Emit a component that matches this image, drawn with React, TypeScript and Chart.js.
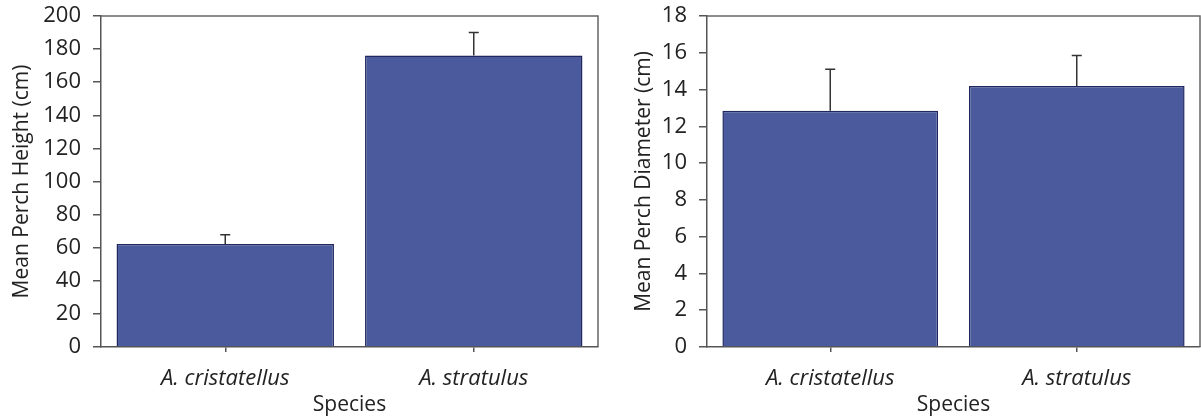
import { useEffect, useRef } from "react";
import { Chart, registerables } from "chart.js";

Chart.register(...registerables);

// Species on the category axis
const species = ["A. cristatellus", "A. stratulus"];

// Perch height (cm): means and upper error (SE)
const heightMeans = [62.2, 176.2];
const heightErrors = [5.6, 13.8];
const heightMax = 200;
const heightStep = 20;

// Perch diameter (cm): means and upper error (SE)
const diameterMeans = [12.85, 14.2];
const diameterErrors = [2.25, 1.65];
const diameterMax = 18;
const diameterStep = 2;

const FONT = "'Open Sans', 'DejaVu Sans', sans-serif";
const BAR_FILL = "#4a5a9d";
const BAR_EDGE = "#1f275e";
const AXIS = "#555555";

// Upward error whiskers with a small cap, placed from the y scale
const errorBars = {
  id: "errorBars",
  afterDatasetsDraw(chart: any) {
    const ds = chart.data.datasets[0];
    const errs: number[] = ds.errors || [];
    const meta = chart.getDatasetMeta(0);
    const y = chart.scales.y;
    const ctx = chart.ctx;
    ctx.save();
    ctx.strokeStyle = "#333333";
    ctx.lineWidth = 1.5;
    errs.forEach((e, i) => {
      const bar = meta.data[i];
      const v = ds.data[i] as number;
      const x = bar.x;
      const y0 = y.getPixelForValue(v);
      const y1 = y.getPixelForValue(v + e);
      ctx.beginPath();
      ctx.moveTo(x, y0);
      ctx.lineTo(x, y1);
      ctx.moveTo(x - 5, y1);
      ctx.lineTo(x + 5, y1);
      ctx.stroke();
    });
    ctx.restore();
  },
};

// Top and right edges of the plot frame
const frame = {
  id: "frame",
  afterDraw(chart: any) {
    const { ctx, chartArea } = chart;
    ctx.save();
    ctx.strokeStyle = "#666666";
    ctx.lineWidth = 1.5;
    ctx.beginPath();
    ctx.moveTo(chartArea.left, chartArea.top);
    ctx.lineTo(chartArea.right, chartArea.top);
    ctx.lineTo(chartArea.right, chartArea.bottom);
    ctx.stroke();
    ctx.restore();
  },
};

type PanelProps = {
  left: number;
  width: number;
  yWidth: number;
  titlePad: number;
  padRight: number;
  means: number[];
  errors: number[];
  max: number;
  step: number;
  yTitle: string;
};

function Panel(p: PanelProps) {
  const ref = useRef<HTMLCanvasElement | null>(null);

  useEffect(() => {
    if (!ref.current) return;
    const chart = new Chart(ref.current, {
      type: "bar",
      data: {
        labels: species,
        datasets: [
          {
            data: p.means,
            errors: p.errors,
            backgroundColor: BAR_FILL,
            borderColor: BAR_EDGE,
            borderWidth: 1.5,
            categoryPercentage: 1,
            barPercentage: 0.875,
          } as any,
        ],
      },
      options: {
        animation: false,
        responsive: false,
        maintainAspectRatio: false,
        layout: { padding: { top: 16, right: p.padRight, left: 0, bottom: 0 } },
        plugins: {
          legend: { display: false },
          tooltip: { enabled: false },
        },
        scales: {
          x: {
            offset: true,
            afterFit: (s: any) => {
              s.height = 72;
              s.paddingLeft = 0;
              s.paddingRight = 0;
            },
            grid: {
              offset: false,
              drawOnChartArea: false,
              tickLength: 5,
              color: AXIS,
              lineWidth: 1.5,
            },
            border: { display: true, color: AXIS, width: 1.5 },
            ticks: {
              color: "#222222",
              padding: 16,
              maxRotation: 0,
              font: { family: FONT, size: 22, style: "italic", lineHeight: 1 },
            },
            title: {
              display: true,
              text: "Species",
              color: "#222222",
              padding: { top: 0, bottom: 3 },
              font: { family: FONT, size: 21, lineHeight: 1 },
            },
          },
          y: {
            min: 0,
            max: p.max,
            afterFit: (s: any) => {
              s.width = p.yWidth;
              s.paddingTop = 0;
              s.paddingBottom = 0;
            },
            grid: {
              drawOnChartArea: false,
              tickLength: 8,
              color: AXIS,
              lineWidth: 1.5,
            },
            border: { display: true, color: AXIS, width: 1.5 },
            ticks: {
              stepSize: p.step,
              color: "#222222",
              padding: 12,
              font: { family: FONT, size: 22, lineHeight: 1 },
            },
            title: {
              display: true,
              text: p.yTitle,
              color: "#222222",
              padding: { top: p.titlePad, bottom: 0 },
              font: { family: FONT, size: 21, lineHeight: 1 },
            },
          },
        },
      },
      plugins: [errorBars, frame],
    });
    return () => chart.destroy();
  }, []);

  return (
    <canvas
      ref={ref}
      width={p.width}
      height={419}
      style={{ position: "absolute", left: p.left, top: 0, width: p.width, height: 419 }}
    />
  );
}

export default function App() {
  return (
    <div
      style={{
        position: "fixed",
        left: 0,
        top: 0,
        width: 1201,
        height: 419,
        overflow: "hidden",
        background: "#ffffff",
      }}
    >
      <Panel
        left={0}
        width={600}
        yWidth={101}
        titlePad={12}
        padRight={2}
        means={heightMeans}
        errors={heightErrors}
        max={heightMax}
        step={heightStep}
        yTitle="Mean Perch Height (cm)"
      />
      <Panel
        left={600}
        width={601}
        yWidth={107}
        titlePad={34}
        padRight={1}
        means={diameterMeans}
        errors={diameterErrors}
        max={diameterMax}
        step={diameterStep}
        yTitle="Mean Perch Diameter (cm)"
      />
    </div>
  );
}
